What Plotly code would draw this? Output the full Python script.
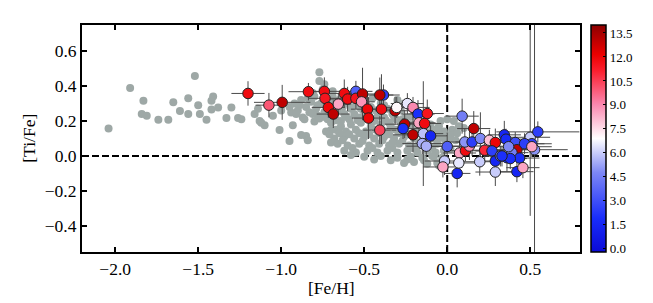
import plotly.graph_objects as go

# ---- grey comparison sample ----
grey_x = [-2.04, -1.91, -1.83, -1.84, -1.81, -1.74, -1.68, -1.65, -1.61, -1.56, -1.56, -1.52, -1.50, -1.49,
          -1.45, -1.42, -1.41, -1.42, -1.38, -1.33, -1.30, -1.26, -1.24, -1.14, -1.13, -1.10, -1.01, -0.95,
          -0.93, -0.85, -0.80, -0.77, -0.77, -0.70, -0.70, -0.94, -1.16, -1.12, -1.05, -1.00,
          -0.95, -0.92, -0.90, -0.88, -0.87, -0.85, -0.83, -0.82, -0.80, -0.79, -0.78, -0.76, -0.75, -0.74,
          -0.72, -0.71, -0.70, -0.69, -0.68, -0.66, -0.65, -0.64, -0.63, -0.62, -0.60, -0.59, -0.58, -0.57,
          -0.56, -0.55, -0.53, -0.52, -0.50, -0.49, -0.47, -0.46, -0.44, -0.43, -0.41, -0.40, -0.38, -0.36,
          -0.35, -0.33, -0.31, -0.30, -0.28, -0.25, -0.74, -0.81, -0.69,
          -0.70, -0.64, -0.58, -0.52, -0.46, -0.40, -0.34, -0.28, -0.22, -0.16, -0.10, -0.05,
          -0.73, -0.67, -0.61, -0.55, -0.49, -0.43, -0.37, -0.31, -0.25, -0.19, -0.13, -0.07, -0.02, 0.03,
          -0.68, -0.62, -0.56, -0.50, -0.44, -0.38, -0.32, -0.26, -0.20, -0.14, -0.08, -0.03, 0.02, 0.06,
          -0.66, -0.60, -0.53, -0.47, -0.41, -0.35, -0.29, -0.23, -0.17, -0.11, -0.06, -0.01,
          -0.62, -0.55, -0.48, -0.42, -0.36, -0.30, -0.24, -0.18, -0.12, -0.07, -0.02,
          -0.50, -0.40, -0.30, -0.22, -0.15, -0.08, -0.03,
          -0.26, -0.20, -0.12, -0.06,
          -0.71, -0.65, -0.59, -0.53, -0.47, -0.41, -0.35, -0.29, -0.23, -0.17, -0.11, -0.05,
          -0.57, -0.45, -0.33, -0.21, -0.09, -0.63, -0.51, -0.39, -0.27, -0.15,
          0.04, 0.07, 0.00, -0.04, 0.10, 0.05, -0.09, -0.88, -0.84,
          -0.91, -0.86, -0.81, -0.77, -0.73, -0.67, -0.61, -0.54, -0.48, -0.42, -0.37, -0.32, -0.27, -0.22,
          -0.19, -0.14, -0.09, -0.04, 0.01, -0.58, -0.44, -0.34, -0.24, -0.14, -0.05, 0.02, -0.33, -0.18,
          -0.89, -0.84, -0.78, -0.72, -0.66, -0.60, -0.54, -0.45, -0.38, -0.31, -0.26, -0.20]
grey_y = [0.157, 0.389, 0.316, 0.24, 0.23, 0.207, 0.207, 0.308, 0.257, 0.33, 0.24, 0.458, 0.29, 0.24,
          0.207, 0.316, 0.34, 0.266, 0.278, 0.217, 0.278, 0.217, 0.21, 0.27, 0.20, 0.176, 0.148, 0.086,
          0.176, 0.115, 0.197, 0.479, 0.43, 0.148, 0.077, 0.249, 0.24, 0.19, 0.23, 0.26,
          0.28, 0.30, 0.26, 0.32, 0.22, 0.28, 0.25, 0.31, 0.34, 0.27, 0.23, 0.30, 0.38, 0.25,
          0.21, 0.31, 0.27, 0.34, 0.23, 0.26, 0.32, 0.20, 0.28, 0.24, 0.30, 0.21, 0.27, 0.33,
          0.24, 0.29, 0.22, 0.27, 0.25, 0.31, 0.23, 0.28, 0.20, 0.26, 0.24, 0.30, 0.22, 0.27,
          0.19, 0.24, 0.21, 0.32, 0.26, 0.22, 0.41, 0.36, 0.37,
          0.19, 0.17, 0.18, 0.19, 0.17, 0.18, 0.17, 0.19, 0.18, 0.19, 0.18, 0.17,
          0.14, 0.15, 0.14, 0.15, 0.14, 0.15, 0.14, 0.15, 0.14, 0.15, 0.14, 0.15, 0.14, 0.15,
          0.10, 0.11, 0.10, 0.11, 0.10, 0.11, 0.10, 0.11, 0.10, 0.11, 0.10, 0.11, 0.12, 0.13,
          0.07, 0.06, 0.07, 0.06, 0.07, 0.06, 0.07, 0.06, 0.07, 0.06, 0.07, 0.08,
          0.03, 0.02, 0.03, 0.02, 0.03, 0.02, 0.03, 0.02, 0.03, 0.02, 0.03,
          -0.005, 0.0, -0.01, -0.005, -0.01, -0.005, -0.01,
          -0.04, -0.035, -0.045, -0.04,
          0.125, 0.13, 0.125, 0.13, 0.125, 0.13, 0.125, 0.13, 0.125, 0.13, 0.125, 0.13,
          0.045, 0.045, 0.045, 0.045, 0.045, 0.09, 0.085, 0.09, 0.085, 0.09,
          0.20, 0.17, 0.21, 0.20, 0.16, 0.09, 0.0, 0.12, 0.09,
          0.24, 0.21, 0.24, 0.215, 0.22, 0.205, 0.225, 0.205, 0.215, 0.225, 0.205, 0.225, 0.21, 0.225,
          0.16, 0.165, 0.145, 0.105, 0.095, 0.005, -0.02, -0.025, -0.02, -0.025, -0.055, 0.04, 0.075, 0.055,
          0.29, 0.33, 0.29, 0.35, 0.30, 0.35, 0.31, 0.33, 0.29, 0.28, 0.30, 0.25]

# ---- coloured sample ----
fe_h = [-1.20, -1.074, -0.994, -0.836, -0.74, -0.736, -0.716, -0.686, -0.656, -0.62, -0.60, -0.55, -0.55,
        -0.51, -0.516, -0.48, -0.474, -0.384, -0.406, -0.396, -0.406, -0.314, -0.304, -0.24, -0.206, -0.176,
        -0.12, -0.17, -0.136, -0.256, -0.266, -0.206, -0.144, -0.10, -0.15, -0.126, 0.0, -0.016, -0.026,
        0.06, 0.09, 0.16, 0.074, 0.11, 0.134, 0.106, 0.15, 0.20, 0.196, 0.07, 0.226, 0.254, 0.29, 0.27,
        0.29, 0.29, 0.344, 0.354, 0.32, 0.36, 0.41, 0.42, 0.39, 0.436, 0.42, 0.456, 0.50, 0.546, 0.51,
        0.526, 0.466, 0.37, 0.51, 0.38, 0.33]
ti_fe = [0.358, 0.291, 0.307, 0.368, 0.37, 0.33, 0.278, 0.24, 0.297, 0.358, 0.326, 0.37, 0.33,
         0.355, 0.31, 0.268, 0.217, 0.349, 0.349, 0.268, 0.148, 0.259, 0.278, 0.30, 0.278, 0.24,
         0.243, 0.19, 0.186, 0.182, 0.157, 0.121, 0.128, 0.115, 0.071, 0.056, 0.054, -0.029, -0.063,
         -0.10, 0.228, 0.157, 0.017, 0.03, 0.057, 0.08, 0.08, 0.10, -0.033, -0.04, 0.033, 0.09, 0.077, 0.029,
         -0.029, -0.092, 0.121, 0.096, 0.0, -0.01, 0.077, 0.036, 0.019, -0.012, -0.09, -0.067, 0.107, 0.138, 0.07,
         0.036, 0.07, 0.053, 0.053, -0.015, 0.0]
color_val = [11.8, 10.0, 13.0, 11.8, 11.8, 11.5, 12.0, 13.0, 8.5, 11.8, 11.8, 3.5, 11.5,
             13.0, 8.8, 12.0, 12.0, 2.5, 13.0, 11.8, 10.5, 13.0, 7.0, 6.5, 9.0, 2.0,
             11.5, 8.5, 11.8, 13.0, 2.0, 13.0, 5.8, 1.5, 5.5, 5.5, 3.5, 6.0, 8.5,
             1.5, 4.5, 13.0, 8.5, 11.8, 9.0, 5.0, 2.5, 4.8, 6.0, 6.5, 11.0, 8.0, 12.0, 2.5,
             1.5, 6.0, 1.5, 1.8, 4.5, 2.0, 3.0, 13.0, 4.5, 2.0, 1.5, 8.5, 6.0, 2.5, 2.5,
             5.0, 2.5, 4.8, 8.5, 2.0, 2.0]
err_x = [0.10, 0.08, 0.17, 0.12, 0.10, 0.10, 0.10, 0.10, 0.08, 0.10, 0.12, 0.10, 0.08,
         0.10, 0.08, 0.10, 0.10, 0.06, 0.12, 0.10, 0.10, 0.12, 0.10, 0.10, 0.10, 0.10,
         0.10, 0.10, 0.10, 0.12, 0.10, 0.12, 0.12, 0.10, 0.12, 0.12, 0.10, 0.12, 0.12,
         0.08, 0.10, 0.10, 0.10, 0.12, 0.10, 0.10, 0.10, 0.10, 0.10, 0.10, 0.12, 0.10, 0.12, 0.10,
         0.10, 0.12, 0.10, 0.12, 0.10, 0.10, 0.12, 0.12, 0.10, 0.12, 0.10, 0.10, 0.12, 0.25, 0.12,
         0.20, 0.12, 0.10, 0.12, 0.10, 0.10]
err_y_up = [0.07, 0.07, 0.10, 0.05, 0.08, 0.06, 0.06, 0.08, 0.06, 0.08, 0.07, 0.06, 0.06,
            0.15, 0.06, 0.08, 0.12, 0.06, 0.10, 0.20, 0.08, 0.08, 0.06, 0.06, 0.06, 0.08,
            0.08, 0.06, 0.07, 0.08, 0.06, 0.10, 0.30, 0.06, 0.06, 0.06, 0.08, 0.08, 0.06,
            0.08, 0.10, 0.10, 0.06, 0.06, 0.08, 0.08, 0.08, 0.15, 0.08, 0.06, 0.07, 0.06, 0.08, 0.06,
            0.08, 0.08, 0.08, 0.06, 0.06, 0.08, 0.06, 0.06, 0.06, 0.06, 0.06, 0.06, 0.70, 0.06, 0.06,
            0.80, 0.06, 0.06, 0.06, 0.06, 0.06]
err_y_dn = [0.07, 0.07, 0.10, 0.05, 0.08, 0.06, 0.06, 0.08, 0.06, 0.08, 0.07, 0.06, 0.06,
            0.15, 0.06, 0.08, 0.12, 0.06, 0.10, 0.20, 0.08, 0.08, 0.06, 0.06, 0.06, 0.08,
            0.08, 0.06, 0.07, 0.08, 0.06, 0.10, 0.30, 0.06, 0.06, 0.06, 0.08, 0.08, 0.06,
            0.08, 0.10, 0.10, 0.06, 0.06, 0.08, 0.08, 0.08, 0.15, 0.08, 0.06, 0.07, 0.06, 0.08, 0.06,
            0.08, 0.08, 0.08, 0.06, 0.06, 0.08, 0.06, 0.06, 0.06, 0.06, 0.06, 0.06, 0.45, 0.06, 0.06,
            0.80, 0.06, 0.06, 0.06, 0.06, 0.06]

x_ticks = [-2.0, -1.5, -1.0, -0.5, 0.0, 0.5]
y_ticks = [-0.4, -0.2, 0.0, 0.2, 0.4, 0.6]
cbar_ticks = [0.0, 1.5, 3.0, 4.5, 6.0, 7.5, 9.0, 10.5, 12.0, 13.5]
x_label = "[Fe/H]"
y_label = "[Ti/Fe]"

FONT = "Liberation Serif, Times New Roman, serif"

colorscale = [
    [0.0, "rgb(10,10,215)"],
    [0.15, "rgb(25,45,250)"],
    [0.35, "rgb(125,135,245)"],
    [0.5, "rgb(255,255,255)"],
    [0.65, "rgb(250,135,175)"],
    [0.80, "rgb(250,30,45)"],
    [0.87, "rgb(235,0,0)"],
    [1.0, "rgb(140,0,0)"],
]

fig = go.Figure()
fig.add_trace(go.Scatter(
    x=grey_x, y=grey_y, mode="markers",
    marker=dict(size=8, color="#9ea8a6", line=dict(width=0)),
    showlegend=False, hoverinfo="skip"))

fig.add_trace(go.Scatter(
    x=fe_h, y=ti_fe, mode="markers",
    error_x=dict(type="data", array=err_x, color="#4a4a4a", thickness=1, width=0),
    error_y=dict(type="data", symmetric=False, array=err_y_up, arrayminus=err_y_dn,
                 color="#4a4a4a", thickness=1, width=0),
    marker=dict(size=10.5, color=color_val, colorscale=colorscale, cmin=-0.2, cmax=14.0,
                line=dict(color="#222222", width=1),
                colorbar=dict(
                    x=1.0215, xanchor="left", y=0.5, yanchor="middle", len=1.0,
                    xpad=0, ypad=0,
                    thickness=15, outlinecolor="black", outlinewidth=1.5,
                    tickvals=cbar_ticks, ticktext=[f"{v:.1f}" for v in cbar_ticks],
                    ticks="inside", ticklen=3, tickcolor="black",
                    tickfont=dict(family=FONT, size=13, color="black"),
                )),
    showlegend=False))

fig.add_shape(type="line", xref="paper", yref="y", x0=0, x1=1, y0=0, y1=0,
              line=dict(color="black", width=2, dash="7px,3px"), layer="below")
fig.add_shape(type="line", xref="x", yref="paper", x0=0, x1=0, y0=0, y1=1,
              line=dict(color="black", width=2, dash="7px,3px"), layer="below")

axis_common = dict(showline=True, linecolor="black", linewidth=2, mirror="ticks",
                   ticks="inside", ticklen=5, tickwidth=2, tickcolor="black",
                   showgrid=False, zeroline=False, automargin=False,
                   tickfont=dict(family=FONT, size=17.5, color="black"))

fig.update_xaxes(range=[-2.2, 0.8], tickvals=x_ticks, tickformat=".1f", **axis_common)
fig.update_yaxes(range=[-0.55, 0.75], tickvals=y_ticks, tickformat=".1f", **axis_common)

title_font = dict(family=FONT, size=17.5, color="black")
fig.add_annotation(text=x_label, xref="paper", yref="paper", x=0.502, y=-0.159,
                   xanchor="center", yanchor="middle", showarrow=False, font=title_font)
fig.add_annotation(text=y_label, xref="paper", yref="paper", x=-0.108, y=0.5,
                   xanchor="center", yanchor="middle", showarrow=False, textangle=-90,
                   font=title_font)

# the page body adds an 8 px offset; margins compensate so the plot lands where the reference has it
fig.update_layout(width=653, height=303, margin=dict(l=74, r=81, t=17, b=59, autoexpand=False),
                  plot_bgcolor="white", paper_bgcolor="white",
                  font=dict(family=FONT, color="black"))

fig.write_html("out.html")
